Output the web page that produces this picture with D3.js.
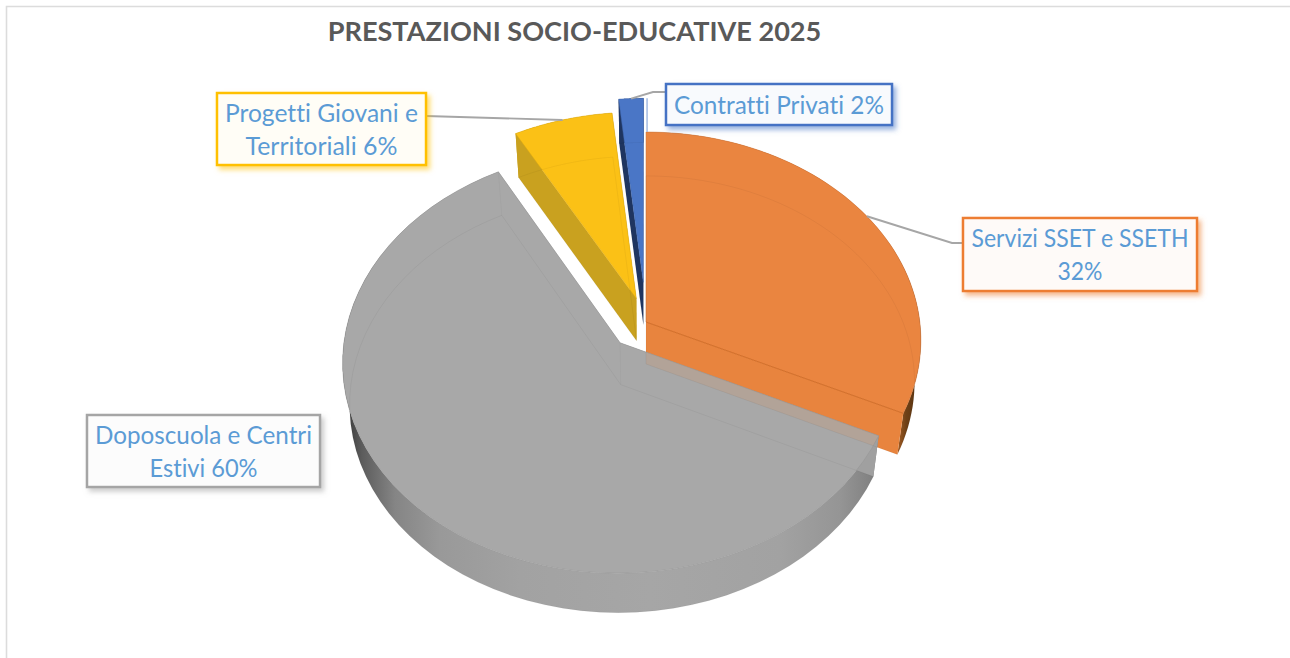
<!DOCTYPE html>
<html>
<head>
<meta charset="utf-8">
<script src="https://cdn.jsdelivr.net/npm/d3@7"></script>
<style>
  html, body { margin: 0; background: #fff; }
  svg { display: block; }
  text { font-family: Lato, "Open Sans", sans-serif; font-variant-ligatures: none; }
</style>
</head>
<body>
<svg id="chart" width="1290" height="658"></svg>
<script>
  const CHART_TITLE = "PRESTAZIONI SOCIO-EDUCATIVE 2025";
  const categories = ["Servizi SSET e SSETH\n", "Doposcuola e Centri\nEstivi", "Progetti Giovani e\nTerritoriali", "Contratti Privati"];
  const shares = [32, 60, 6.4, 1.6];
  const explode = [0, 0.137, 0.12, 0.196];
  const sliceColors = ["#ea8540", "#a8a8a8", "#fbc116", "#4a76c6"];
  const borderColors = ["#ed7d31", "#a5a5a5", "#ffc000", "#4472c4"];
  const endWallColors = ["#e8843e", "#a0a0a0", "#c9a11f", "#1f3560"];
  const boxes = [
    { x: 963, y: 218, w: 234, h: 73 },
    { x: 87, y: 415, w: 233, h: 72 },
    { x: 217, y: 93, w: 209, h: 72 },
    { x: 666, y: 84, w: 226, h: 41 },
  ];
  const rowWidths = [[217, 45], [217, 108], [193, 152], [210]];
  const drawOrder = [3, 2, 0, 1];

  // tilted disc with a little perspective: Y runs from back (-1) to front (+1)
  const CX = 646, CY = 322, A = 273.8, B = 206.5, K = 0.087, DEPTH = 42;
  const A_LOW = A * 0.977, B_LOW = B * 0.99;

  function project(X, Y, low) {
    const w = 1 - K * Y;
    return low
      ? [CX + (A_LOW * X) / w, CY + DEPTH + (B_LOW * Y) / w]
      : [CX + (A * X) / w, CY + (B * Y) / w];
  }

  const slices = d3.pie().sort(null).value((d) => d)(shares).map((a, i) => {
    const mid = (a.startAngle + a.endAngle) / 2;
    return { i, start: a.startAngle, end: a.endAngle, mid, ox: explode[i] * Math.sin(mid), oy: -explode[i] * Math.cos(mid) };
  });

  function rimPoint(s, t, low) {
    return project(s.ox + Math.sin(t), s.oy - Math.cos(t), low);
  }
  function apexPoint(s, low) {
    return project(s.ox, s.oy, low);
  }
  function arcPoints(s, low) {
    return d3.range(0, 61).map((k) => rimPoint(s, s.start + ((s.end - s.start) * k) / 60, low));
  }

  const line = d3.line();
  const svg = d3.select("#chart");
  const defs = svg.append("defs");

  borderColors.forEach((c, i) => {
    const f = defs.append("filter").attr("id", "shadow" + i)
      .attr("x", "-10%").attr("y", "-20%").attr("width", "125%").attr("height", "150%");
    f.append("feDropShadow").attr("dx", 3).attr("dy", 3.5).attr("stdDeviation", 2.5)
      .attr("flood-color", c).attr("flood-opacity", 0.55);
  });

  function rimGradient(id, stops) {
    const g = defs.append("linearGradient").attr("id", id)
      .attr("gradientUnits", "userSpaceOnUse")
      .attr("x1", 340).attr("x2", 925).attr("y1", 0).attr("y2", 0);
    stops.forEach(([x, c]) => g.append("stop").attr("offset", (x - 340) / 585).attr("stop-color", c));
  }
  rimGradient("rim1", [[348, "#3e3e3e"], [362, "#5c5c5c"], [395, "#858585"], [440, "#999"], [520, "#a2a2a2"], [650, "#a6a6a6"], [780, "#a2a2a2"], [840, "#959595"], [880, "#7c7c7c"]]);
  rimGradient("rim0", [[885, "#b9682c"], [898, "#a05a22"], [906, "#6e4016"], [922, "#4e2c0e"]]);
  rimGradient("rim2", [[340, "#c9a11f"], [925, "#c9a11f"]]);
  rimGradient("rim3", [[340, "#1f3560"], [925, "#1f3560"]]);

  // frame
  svg.append("path")
    .attr("d", line([[6.5, 658], [6.5, 6.5], [1290, 6.5]]))
    .attr("fill", "none").attr("stroke", "#dcdcdc").attr("stroke-width", 1.6);

  svg.append("text")
    .attr("x", 574.5).attr("y", 41).attr("text-anchor", "middle")
    .attr("font-size", 27.1).attr("font-weight", 700).attr("fill", "#595959")
    .text(CHART_TITLE);

  function endWall(s, t) {
    return line([apexPoint(s, false), rimPoint(s, t, false), rimPoint(s, t, true), apexPoint(s, true)]) + "Z";
  }

  drawOrder.forEach((i) => {
    const s = slices[i];
    const g = svg.append("g").attr("class", "slice");
    // outer wall
    g.append("path")
      .attr("d", line(arcPoints(s, false).concat(arcPoints(s, true).reverse())) + "Z")
      .attr("fill", `url(#rim${i})`);
    // end walls, only the ones facing the viewer show
    g.append("path").attr("d", endWall(s, s.start)).attr("fill", endWallColors[i]);
    g.append("path").attr("d", endWall(s, s.end)).attr("fill", endWallColors[i]);
    // top face
    g.append("path")
      .attr("d", line([apexPoint(s, false)].concat(arcPoints(s, false))) + "Z")
      .attr("fill", sliceColors[i])
      .attr("stroke", d3.color(sliceColors[i]).darker(0.35)).attr("stroke-width", 0.5);
  });

  // seam between the orange top and its front wall
  svg.append("path")
    .attr("d", line([apexPoint(slices[0], false), rimPoint(slices[0], slices[0].end, false)]))
    .attr("fill", "none").attr("stroke", "#d4702a").attr("stroke-width", 1);

  // orange wall shows faintly through the gray top
  defs.append("clipPath").attr("id", "grayTop").append("path")
    .attr("d", line([apexPoint(slices[1], false)].concat(arcPoints(slices[1], false))) + "Z");
  svg.append("path").attr("d", endWall(slices[0], slices[0].end))
    .attr("fill", "#e8843e").attr("fill-opacity", 0.15)
    .attr("clip-path", "url(#grayTop)");

  // hidden edges of the lower disc, seen through the faces
  function hiddenEdge(points, opacity) {
    svg.append("path")
      .attr("d", line(points))
      .attr("fill", "none").attr("stroke", "#000").attr("stroke-opacity", opacity).attr("stroke-width", 0.8);
  }
  slices.forEach((s) => {
    hiddenEdge([rimPoint(s, s.start, true), apexPoint(s, true), rimPoint(s, s.end, true)], 0.06);
    hiddenEdge(arcPoints(s, true), 0.06);
  });
  hiddenEdge([apexPoint(slices[1], false), apexPoint(slices[1], true)], 0.04);
  hiddenEdge([rimPoint(slices[1], slices[1].end, false), rimPoint(slices[1], slices[1].end, true)], 0.04);

  // pale sliver right of the blue slice
  const blueCorner = rimPoint(slices[3], slices[3].end, false);
  svg.append("path")
    .attr("d", line([[blueCorner[0] + 3.5, blueCorner[1]], [blueCorner[0] + 3.5, rimPoint(slices[0], 0, false)[1]]]))
    .attr("stroke", "#9db6e0").attr("stroke-width", 1.4);

  // leader lines
  function leader(i, points) {
    svg.append("path")
      .attr("d", line([rimPoint(slices[i], slices[i].mid, false)].concat(points)))
      .attr("fill", "none").attr("stroke", "#a6a6a6").attr("stroke-width", 1.9);
  }
  leader(0, [[952, 243], [boxes[0].x, 243]]);
  leader(2, [[boxes[2].x + boxes[2].w, 116]]);
  leader(3, [[653, 92], [boxes[3].x, 92]]);

  // labels
  slices.forEach((s) => {
    const b = boxes[s.i];
    const g = svg.append("g").attr("class", "data-label");
    g.append("rect")
      .attr("x", b.x).attr("y", b.y).attr("width", b.w).attr("height", b.h)
      .attr("fill", "#fff").attr("stroke", borderColors[s.i]).attr("stroke-width", 2.5)
      .attr("filter", `url(#shadow${s.i})`);
    g.append("rect")
      .attr("x", b.x + 1.5).attr("y", b.y + 1.5).attr("width", b.w - 3).attr("height", b.h - 3)
      .attr("fill", borderColors[s.i]).attr("fill-opacity", 0.035);
    const rows = `${categories[s.i]} ${Math.round(shares[s.i])}%`.split("\n").map((t) => t.trim());
    rows.forEach((row, k) => {
      g.append("text")
        .attr("x", b.x + b.w / 2)
        .attr("y", b.y + b.h / 2 + 9 + (k - (rows.length - 1) / 2) * 33)
        .attr("text-anchor", "middle").attr("font-size", 24.5).attr("fill", "#5b9bd5")
        .attr("textLength", rowWidths[s.i][k]).attr("lengthAdjust", "spacingAndGlyphs")
        .text(row);
    });
  });
</script>
</body>
</html>
